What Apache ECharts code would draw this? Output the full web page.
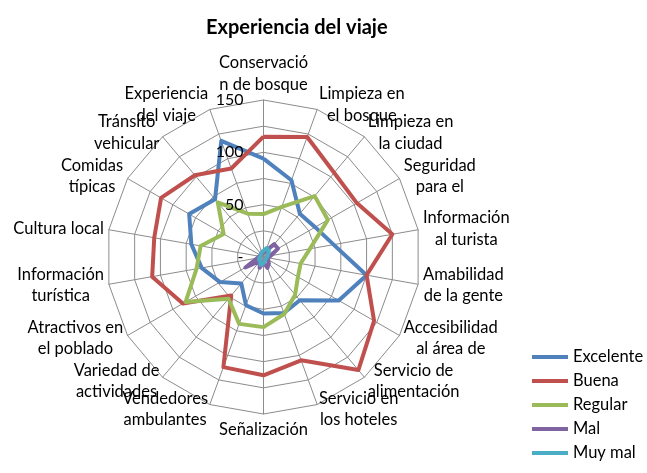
<!DOCTYPE html>
<html>
<head>
<meta charset="utf-8">
<script src="https://cdn.jsdelivr.net/npm/echarts@6/dist/echarts.min.js"></script>
<style>
html,body{margin:0;padding:0;background:#fff;}
#c{width:647px;height:473px;}
</style>
</head>
<body>
<div id="c"></div>
<script>
const categories = [
  "Conservació\nn de bosque", "Limpieza en\nel bosque", "Limpieza en\nla ciudad", "Seguridad\npara el",
  "Información\nal turista", "Amabilidad\nde la gente", "Accesibilidad\nal área de", "Servicio de\nalimentación",
  "Servicio en\nlos hoteles", "Señalización", "Vendedores\nambulantes", "Variedad de\nactividades",
  "Atractivos en\nel poblado", "Información\nturística", "Cultura local", "Comidas\ntípicas",
  "Tránsito\nvehicular", "Experiencia\ndel viaje"
];
const seriesNames = ["Excelente", "Buena", "Regular", "Mal", "Muy mal"];
const excelente = [94, 78, 54, 57, 68, 100, 83, 54, 57, 54, 49, 33, 48, 60, 70, 82, 72, 118];
const buena     = [115, 122, 105, 103, 125, 100, 122, 141, 105, 113, 112, 48, 89, 108, 106, 113, 102, 90];
const regular   = [41, 51, 76, 71, 45, 36, 38, 47, 58, 67, 68, 52, 86, 65, 61, 44, 68, 44];
const mal       = [4, 6, 16, 16, 7, 4, 5, 8, 11, 5, 11, 5, 20, 6, 4, 3, 3, 4];
const muyMal    = [6, 9, 8, 5, 4, 3, 3, 3, 4, 6, 8, 5, 5, 4, 3, 3, 4, 5];
const axisMax = 150;
const tickStep = 25;
const colors = ["#4F81BD", "#C0504D", "#9BBB59", "#8064A2", "#4BACC6"];
const FONT = "Lato, 'Open Sans', sans-serif";

// ECharts radar runs counter-clockwise; reorder so categories run clockwise from the top.
const order = categories.map((_, i) => (categories.length - i) % categories.length);
const reorder = arr => order.map(i => arr[i]);

const allValues = [excelente, buena, regular, mal, muyMal];
const chart = echarts.init(document.getElementById('c'), null, {renderer: 'canvas'});
const center = [263.5, 257];
const radius = 157;

chart.setOption({
  backgroundColor: '#fff',
  animation: false,
  color: colors,
  title: {
    text: 'Experiencia del viaje',
    left: 201, top: 13,
    textStyle: {fontFamily: FONT, fontSize: 20, fontWeight: 'bold', color: '#000'}
  },
  legend: {
    orient: 'vertical',
    left: 527, top: 342,
    itemWidth: 36, itemHeight: 4, itemGap: 4,
    icon: 'rect',
    data: seriesNames,
    textStyle: {fontFamily: FONT, fontSize: 16.5, color: '#000', lineHeight: 20}
  },
  radar: {
    center: center,
    radius: radius,
    startAngle: 90,
    shape: 'polygon',
    splitNumber: axisMax / tickStep,
    nameGap: 5,
    indicator: reorder(categories).map(n => ({name: n, min: 0, max: axisMax})),
    axisName: {
      color: '#000',
      fontFamily: FONT,
      fontSize: 16.5,
      formatter: function (name) {
        return name.split('\n').map(s => '{c|' + s + '}').join('\n');
      },
      rich: {c: {align: 'center', fontFamily: FONT, fontSize: 16.5, lineHeight: 21.5, color: '#000'}}
    },
    axisLine: {lineStyle: {color: '#8c8c8c', width: 1}},
    splitLine: {lineStyle: {color: '#8c8c8c', width: 1}},
    splitArea: {show: false}
  },
  polar: {center: center, radius: radius},
  angleAxis: {show: false, startAngle: 90, min: 0, max: 360},
  radiusAxis: {
    z: 20,
    min: 0, max: axisMax, interval: tickStep,
    axisLine: {show: false}, axisTick: {show: false}, splitLine: {show: false},
    axisLabel: {
      margin: 20,
      fontFamily: FONT, fontSize: 16, color: '#000',
      formatter: function (v) { return v === 0 ? '-' : (v % 50 === 0 ? String(v) : ''); }
    }
  },
  series: seriesNames.map((nm, i) => ({
    name: nm,
    type: 'radar',
    symbol: 'none',
    lineStyle: {width: 4, color: colors[i]},
    itemStyle: {color: colors[i]},
    data: [{name: nm, value: reorder(allValues[i])}]
  }))
});
</script>
</body>
</html>
